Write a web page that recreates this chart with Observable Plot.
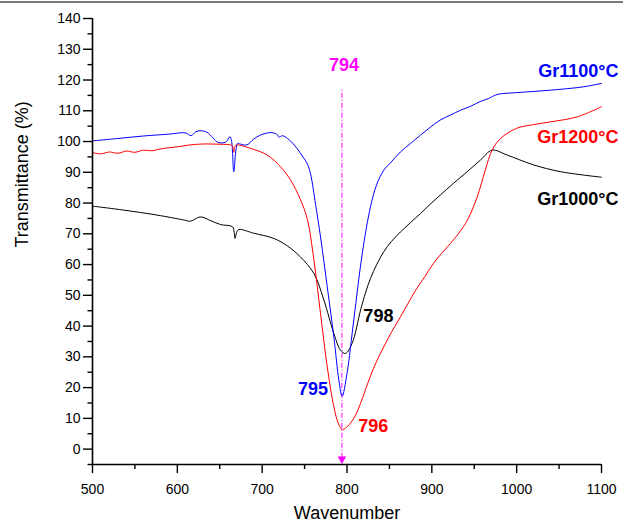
<!DOCTYPE html>
<html>
<head>
<meta charset="utf-8">
<script src="https://cdn.jsdelivr.net/npm/d3@7"></script>
<script src="https://cdn.jsdelivr.net/npm/@observablehq/plot@0.6"></script>
<style>
  html, body { margin: 0; padding: 0; background: #fff; }
  #wrap { position: relative; width: 623px; height: 530px; }
  #topline { position: absolute; left: 0; top: 1px; width: 623px; height: 2px; background: #7a7a7a; }
  svg { display: block; font-family: "Liberation Sans", Arial, sans-serif; }
</style>
</head>
<body>
<div id="wrap"><div id="topline"></div></div>
<script>
// ---- data ----
const gr1100W = [500, 530, 560, 590, 610, 616, 622, 628, 635, 642, 648, 657, 662, 664, 666.5, 669, 671, 674, 682, 690, 698, 710, 717, 720, 724, 732, 741, 748, 753, 757, 763, 768.8, 776.7, 784.5, 790.4, 794.3, 800, 808, 818, 827.7, 835, 843.4, 851, 863, 875, 886.7, 898, 910, 922, 934, 946, 957, 967, 977, 1000, 1040, 1079, 1100];
const gr1100T = [100.2, 101.0, 101.8, 102.4, 102.8, 101.9, 103.2, 103.5, 103.0, 101.2, 99.7, 99.8, 101.6, 100.0, 90.2, 97.0, 99.4, 99.2, 98.9, 100.8, 102.1, 102.9, 102.4, 101.4, 101.9, 100.5, 97.8, 95.0, 92.9, 89.5, 79.5, 69.0, 52.8, 36.5, 22.4, 17.2, 24.6, 42.0, 63.6, 78.8, 86.0, 90.7, 93.0, 96.6, 99.4, 102.1, 104.6, 107.0, 108.6, 110.2, 111.5, 113.0, 114.0, 115.3, 115.9, 116.7, 117.8, 118.9];

const gr1200W = [500, 510, 520, 530, 540, 550, 560, 570, 580, 600, 615, 630, 651, 662.7, 665, 666.5, 668, 670, 686, 706, 721.6, 733.4, 745, 753, 761, 768.8, 776.7, 784.5, 790, 794.3, 798, 804, 810, 816, 822, 827.7, 835, 843.4, 853, 863, 872, 881, 892, 902, 912, 922, 932, 942, 953.5, 963, 971, 981, 1000, 1020, 1040, 1071, 1100];
const gr1200T = [96.4, 96.0, 96.6, 96.2, 96.9, 96.5, 97.2, 97.0, 97.6, 98.3, 98.9, 99.2, 99.1, 98.9, 98.5, 96.5, 98.5, 98.9, 97.8, 95.6, 91.8, 87.5, 81.2, 75.0, 61.5, 44.0, 26.8, 13.8, 8.2, 6.4, 6.8, 8.4, 11.0, 14.9, 19.5, 23.8, 28.6, 33.3, 38.3, 43.0, 47.4, 51.7, 56.2, 60.4, 63.8, 66.9, 70.3, 74.5, 82.0, 90.7, 97.2, 101.0, 104.3, 105.5, 106.4, 108.0, 111.3];

const gr1000W = [500, 537, 576, 607.6, 615.5, 627, 640, 651, 665, 667, 668, 670, 672.5, 690, 713.7, 730, 745, 761, 772.7, 784.5, 792.3, 798.2, 806, 816, 822, 827.7, 835, 843.4, 852, 863, 875, 886.7, 898, 910, 925, 941.7, 957.4, 971, 988.8, 1020, 1051.7, 1100];
const gr1000T = [79.0, 77.7, 76.1, 74.5, 74.1, 75.5, 74.2, 73.0, 72.3, 70.5, 68.5, 70.5, 71.4, 70.2, 68.5, 66.0, 62.5, 57.1, 48.5, 37.6, 32.2, 31.1, 34.4, 45.2, 51.0, 55.5, 60.0, 64.2, 67.4, 70.6, 73.7, 76.6, 79.6, 82.6, 86.3, 90.2, 94.0, 97.2, 95.6, 92.4, 90.2, 88.4];

const seriesNames = ["Gr1000°C", "Gr1100°C", "Gr1200°C"];
const seriesColors = ["#000000", "#0000ff", "#ff0000"];
const seriesLabelT = [81.3, 122.9, 101.5];

const peakText = ["798", "795", "796"];
const peakLabelW = [837, 760, 831];
const peakLabelT = [43.3, 19.5, 7.6];
const peakColors = ["#000000", "#0000ff", "#ff0000"];

const markerW = 794;
const markerTop = 116.7;
const markerLabelT = 124.9;

const xMajor = [500, 600, 700, 800, 900, 1000, 1100];
const xMinor = [550, 650, 750, 850, 950, 1050];
const yMajor = [0, 10, 20, 30, 40, 50, 60, 70, 80, 90, 100, 110, 120, 130, 140];
const yMinor = [-5, 5, 15, 25, 35, 45, 55, 65, 75, 85, 95, 105, 115, 125, 135];

// ---- build table ----
const rows = [];
[[gr1000W, gr1000T, seriesNames[0]], [gr1100W, gr1100T, seriesNames[1]], [gr1200W, gr1200T, seriesNames[2]]]
  .forEach(([W, T, name]) => W.forEach((w, i) => rows.push({w, t: T[i], s: name})));
const labels = seriesNames.map((n, i) => ({n, t: seriesLabelT[i], c: seriesColors[i]}));
const peaks = peakText.map((p, i) => ({p, w: peakLabelW[i], t: peakLabelT[i], c: peakColors[i]}));

const chart = Plot.plot({
  width: 623,
  height: 530,
  marginLeft: 92,
  marginRight: 22,
  marginTop: 18,
  marginBottom: 66,
  style: {fontFamily: "'Liberation Sans', Arial, sans-serif", background: "white"},
  x: {domain: [500, 1100]},
  y: {domain: [-5, 140]},
  color: {domain: seriesNames, range: seriesColors},
  marks: [
    // magenta marker line
    Plot.ruleX([markerW], {y1: -3, y2: markerTop, stroke: "#ff00ff", strokeWidth: 1, strokeDasharray: "5,2,1,2"}),
    Plot.dot([markerW], {x: d => d, y: -3.2, symbol: "triangle", rotate: 180, r: 3.2, fill: "#ff00ff", stroke: "none"}),
    Plot.text([String(markerW)], {x: markerW, y: markerLabelT, text: d => d, fill: "#ff00ff", fontSize: 18, fontWeight: "bold", dx: 2}),
    // curves
    Plot.line(rows, {x: "w", y: "t", z: "s", stroke: "s", strokeWidth: 1, curve: "catmull-rom"}),
    // axes
    Plot.ruleY([-5], {x1: 500, x2: 1100, stroke: "#000", strokeWidth: 1.6}),
    Plot.ruleX([500], {y1: -5, y2: 140, stroke: "#000", strokeWidth: 1.6}),
    Plot.axisX(xMajor, {tickSize: 9, tickPadding: 11, fontSize: 14, label: null, tickFormat: d => String(d), strokeWidth: 1.4}),
    Plot.axisX(xMinor, {tickSize: 5, tickFormat: () => "", label: null, strokeWidth: 1.4}),
    Plot.axisY(yMajor, {tickSize: 9, tickPadding: 3, fontSize: 14, label: null, tickFormat: d => String(d), strokeWidth: 1.4}),
    Plot.axisY(yMinor, {tickSize: 4.5, tickFormat: () => "", label: null, strokeWidth: 1.4}),
    // axis titles
    Plot.text(["Transmittance (%)"], {frameAnchor: "left", text: d => d, rotate: -90, dx: -70, dy: 6, fontSize: 18, fill: "#000"}),
    Plot.text(["Wavenumber"], {frameAnchor: "bottom", text: d => d, dy: 54, fontSize: 18, fill: "#000"}),
    // series labels
    Plot.text(labels, {x: 1100, y: "t", text: "n", fill: "c", textAnchor: "end", dx: 17, fontSize: 18, fontWeight: "bold"}),
    // peak labels
    Plot.text(peaks, {x: "w", y: "t", text: "p", fill: "c", fontSize: 18, fontWeight: "bold"})
  ]
});
document.getElementById("wrap").appendChild(chart);
</script>
</body>
</html>
